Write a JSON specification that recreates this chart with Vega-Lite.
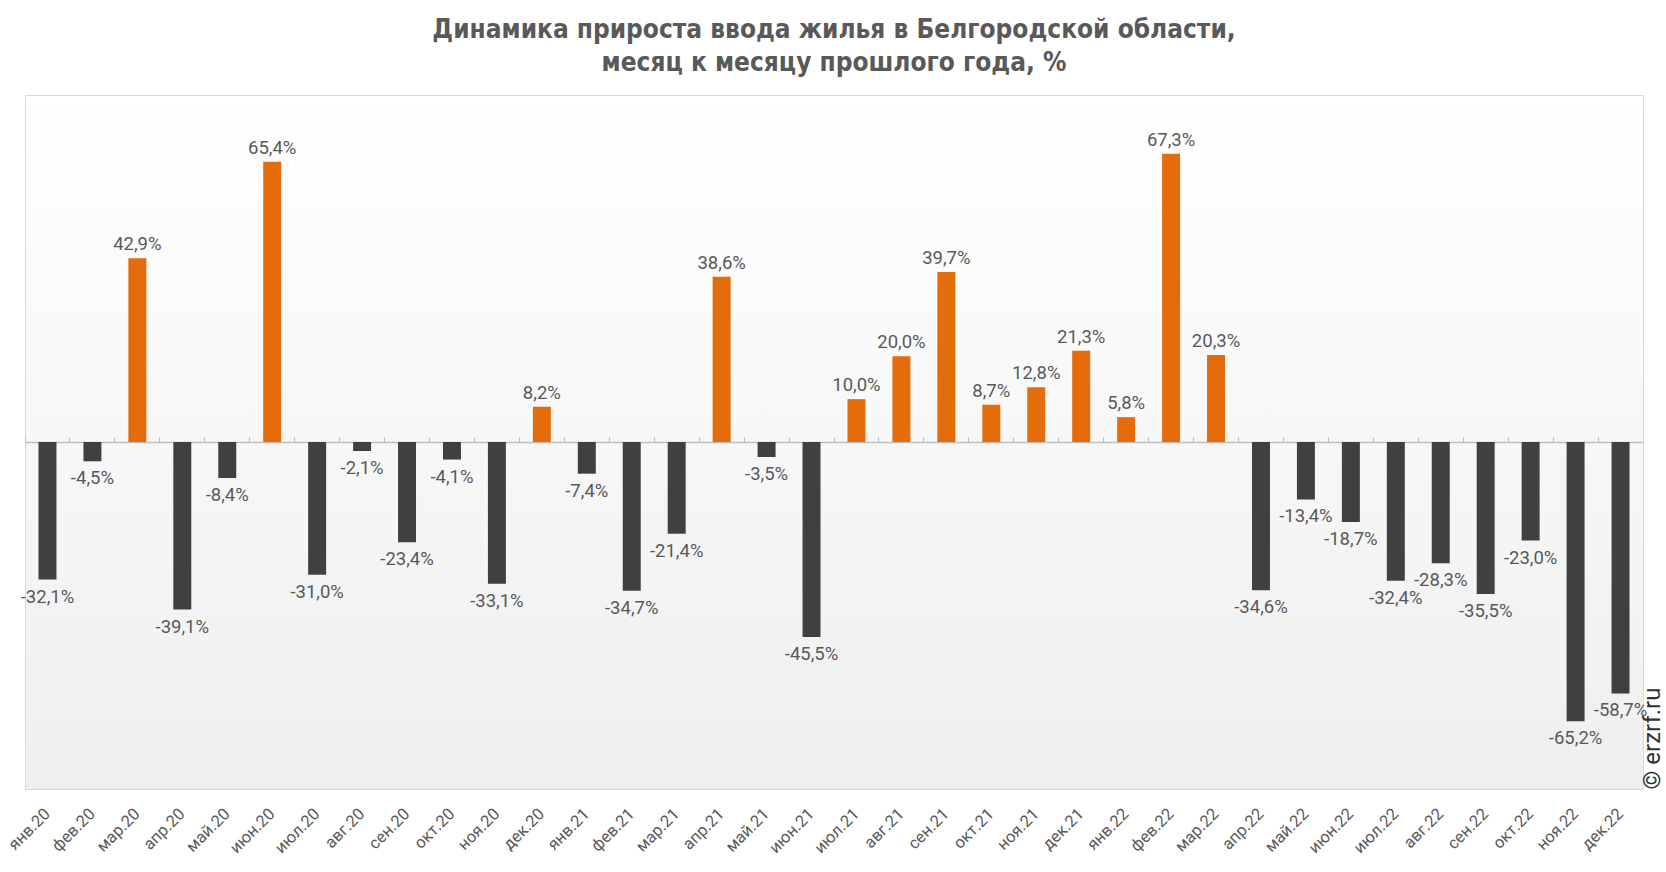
{
  "$schema": "https://vega.github.io/schema/vega-lite/v6.json",
  "autosize": "none",
  "width": 1618,
  "height": 694,
  "padding": {"left": 25, "top": 95, "right": 23, "bottom": 83},
  "background": "#ffffff",
  "title": {
    "text": ["Динамика прироста ввода жилья в Белгородской области,", "месяц к месяцу прошлого года, %"],
    "font": "DejaVu Sans Condensed",
    "fontSize": 26,
    "fontWeight": "bold",
    "color": "#595959",
    "lineHeight": 33,
    "anchor": "middle",
    "offset": 19
  },
  "config": {
    "view": {
      "stroke": "#d9d9d9",
      "strokeWidth": 1,
      "fill": {"gradient": "linear", "x1": 0, "y1": 0, "x2": 0, "y2": 1,
        "stops": [{"offset": 0, "color": "#ffffff"}, {"offset": 1, "color": "#efefef"}]}
    },
    "font": "Roboto"
  },
  "data": {
    "values": [
      {"m": "янв.20", "v": -32.1, "label": "-32,1%"},
      {"m": "фев.20", "v": -4.5, "label": "-4,5%"},
      {"m": "мар.20", "v": 42.9, "label": "42,9%"},
      {"m": "апр.20", "v": -39.1, "label": "-39,1%"},
      {"m": "май.20", "v": -8.4, "label": "-8,4%"},
      {"m": "июн.20", "v": 65.4, "label": "65,4%"},
      {"m": "июл.20", "v": -31.0, "label": "-31,0%"},
      {"m": "авг.20", "v": -2.1, "label": "-2,1%"},
      {"m": "сен.20", "v": -23.4, "label": "-23,4%"},
      {"m": "окт.20", "v": -4.1, "label": "-4,1%"},
      {"m": "ноя.20", "v": -33.1, "label": "-33,1%"},
      {"m": "дек.20", "v": 8.2, "label": "8,2%"},
      {"m": "янв.21", "v": -7.4, "label": "-7,4%"},
      {"m": "фев.21", "v": -34.7, "label": "-34,7%"},
      {"m": "мар.21", "v": -21.4, "label": "-21,4%"},
      {"m": "апр.21", "v": 38.6, "label": "38,6%"},
      {"m": "май.21", "v": -3.5, "label": "-3,5%"},
      {"m": "июн.21", "v": -45.5, "label": "-45,5%"},
      {"m": "июл.21", "v": 10.0, "label": "10,0%"},
      {"m": "авг.21", "v": 20.0, "label": "20,0%"},
      {"m": "сен.21", "v": 39.7, "label": "39,7%"},
      {"m": "окт.21", "v": 8.7, "label": "8,7%"},
      {"m": "ноя.21", "v": 12.8, "label": "12,8%"},
      {"m": "дек.21", "v": 21.3, "label": "21,3%"},
      {"m": "янв.22", "v": 5.8, "label": "5,8%"},
      {"m": "фев.22", "v": 67.3, "label": "67,3%"},
      {"m": "мар.22", "v": 20.3, "label": "20,3%"},
      {"m": "апр.22", "v": -34.6, "label": "-34,6%"},
      {"m": "май.22", "v": -13.4, "label": "-13,4%"},
      {"m": "июн.22", "v": -18.7, "label": "-18,7%"},
      {"m": "июл.22", "v": -32.4, "label": "-32,4%"},
      {"m": "авг.22", "v": -28.3, "label": "-28,3%"},
      {"m": "сен.22", "v": -35.5, "label": "-35,5%"},
      {"m": "окт.22", "v": -23.0, "label": "-23,0%"},
      {"m": "ноя.22", "v": -65.2, "label": "-65,2%"},
      {"m": "дек.22", "v": -58.7, "label": "-58,7%"}
    ]
  },
  "encoding": {
    "x": {"field": "m", "type": "nominal", "sort": null,
      "scale": {"paddingInner": 0.6, "paddingOuter": 0.3}},
    "y": {"field": "v", "type": "quantitative", "scale": {"domain": [-81, 81], "nice": false, "zero": false}}
  },
  "layer": [
    {
      "mark": {"type": "bar"},
      "encoding": {
        "x": {"field": "m", "type": "nominal", "sort": null, "title": null,
          "axis": {"labelAngle": -45, "labelAlign": "right", "labelBaseline": "middle", "labelFontSize": 16.5,
            "labelColor": "#595959", "ticks": false, "domain": false, "labelPadding": 22, "grid": false}},
        "y": {"field": "v", "type": "quantitative", "axis": null},
        "color": {"condition": {"test": "datum.v > 0", "value": "#E46C0A"}, "value": "#404040"}
      }
    },
    {
      "transform": [{"filter": "datum.v > 0"}],
      "mark": {"type": "text", "baseline": "alphabetic", "dy": -8, "fontSize": 18.5, "color": "#595959"},
      "encoding": {
        "x": {"field": "m", "type": "nominal", "sort": null, "axis": null},
        "y": {"field": "v", "type": "quantitative", "axis": null},
        "text": {"field": "label"}
      }
    },
    {
      "transform": [{"filter": "datum.v < 0"}],
      "mark": {"type": "text", "baseline": "top", "dy": 8, "fontSize": 18.5, "color": "#595959"},
      "encoding": {
        "x": {"field": "m", "type": "nominal", "sort": null, "axis": null},
        "y": {"field": "v", "type": "quantitative", "axis": null},
        "text": {"field": "label"}
      }
    },
    {
      "mark": {"type": "bar", "opacity": 0},
      "encoding": {
        "x": {"field": "m", "type": "nominal", "sort": null, "title": null,
          "axis": {"labels": false, "ticks": true, "tickSize": 5, "tickColor": "#bfbfbf", "domain": true,
            "domainColor": "#bfbfbf", "domainWidth": 1.5, "bandPosition": -0.75, "offset": -347, "grid": false}},
        "y": {"field": "v", "type": "quantitative",
          "axis": {"orient": "right", "title": "© erzrf.ru", "labels": false, "ticks": false, "domain": false, "grid": false,
            "titleAngle": 270, "titleAnchor": "start", "titleBaseline": "top", "titleFontSize": 24, "titleFontWeight": "normal",
            "titleColor": "#333333", "titlePadding": -3, "titleFont": "Roboto"}}
      }
    }
  ],
  "resolve": {"axis": {"x": "independent", "y": "independent"}}
}
